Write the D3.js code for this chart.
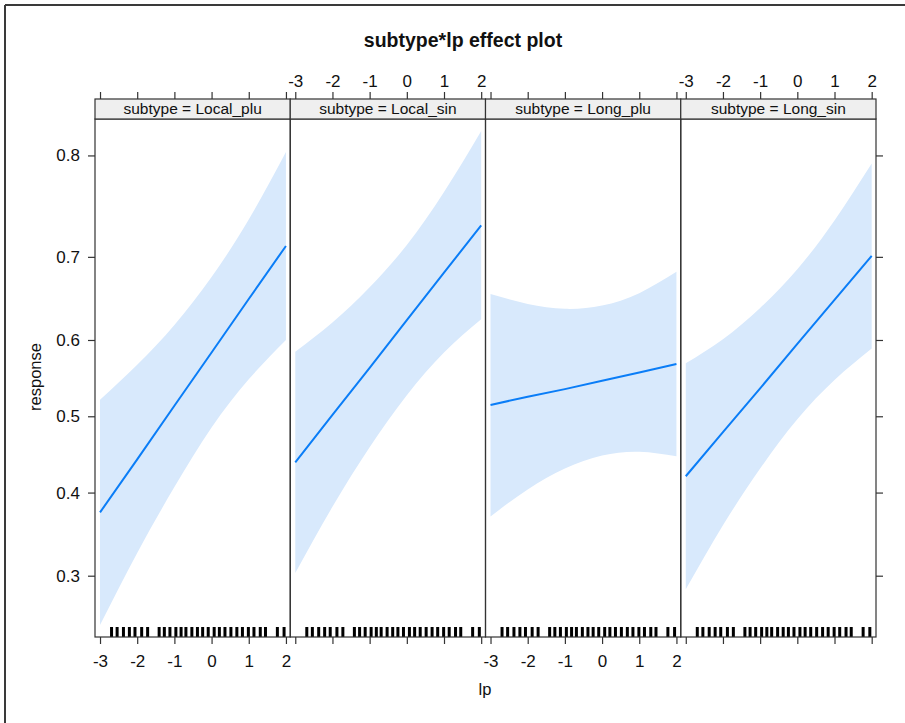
<!DOCTYPE html>
<html>
<head>
<meta charset="utf-8">
<script src="https://cdn.jsdelivr.net/npm/d3@7"></script>
<style>
  body { margin: 0; background: #fff; }
  svg { display: block; }
  text { font-family: "Liberation Sans", Arial, sans-serif; fill: #111; }
</style>
</head>
<body>
<svg id="chart" width="905" height="723"></svg>
<script>
// Panels (one per subtype level)
const subtypes = ["Local_plu", "Local_sin", "Long_plu", "Long_sin"];

// lp values at which the effect was evaluated
const lpGrid = [-3, -2, -1, 0, 1, 2];

// Fitted response and 95% confidence limits per subtype
const fitLocalPlu   = [0.375, 0.443, 0.514, 0.584, 0.651, 0.712];
const lowerLocalPlu = [0.248, 0.326, 0.407, 0.485, 0.549, 0.600];
const upperLocalPlu = [0.522, 0.568, 0.619, 0.677, 0.740, 0.803];

const fitLocalSin   = [0.439, 0.502, 0.564, 0.625, 0.682, 0.734];
const lowerLocalSin = [0.303, 0.382, 0.459, 0.528, 0.584, 0.626];
const upperLocalSin = [0.585, 0.622, 0.665, 0.713, 0.767, 0.820];

const fitLongPlu    = [0.515, 0.526, 0.536, 0.547, 0.558, 0.569];
const lowerLongPlu  = [0.370, 0.404, 0.431, 0.448, 0.453, 0.447];
const upperLongPlu  = [0.657, 0.645, 0.639, 0.643, 0.658, 0.683];

const fitLongSin    = [0.421, 0.479, 0.537, 0.595, 0.650, 0.701];
const lowerLongSin  = [0.285, 0.359, 0.431, 0.496, 0.548, 0.589];
const upperLongSin  = [0.570, 0.601, 0.640, 0.686, 0.739, 0.793];

// Observed lp values shown as a rug along the bottom of each panel
const lpRug = [-2.69, -2.54, -2.37, -2.21, -2.06, -1.88, -1.72,
               -1.41, -1.27, -1.12, -0.96, -0.82, -0.69, -0.53, -0.38, -0.24, -0.09,
                0.07, 0.21, 0.36, 0.52, 0.68, 0.83, 0.99, 1.14, 1.31, 1.45,
                1.77, 1.95];

// Axis ticks
const xTicks = [-3, -2, -1, 0, 1, 2];
const xTickLabels = ["-3", "-2", "-1", "0", "1", "2"];
const yTicks = [0.3, 0.4, 0.5, 0.6, 0.7, 0.8];
const yTickLabels = ["0.3", "0.4", "0.5", "0.6", "0.7", "0.8"];

const titleText = "subtype*lp effect plot";
const xLabel = "lp";
const yLabel = "response";

// ---------------------------------------------------------------------------
const fits   = [fitLocalPlu, fitLocalSin, fitLongPlu, fitLongSin];
const lowers = [lowerLocalPlu, lowerLocalSin, lowerLongPlu, lowerLongSin];
const uppers = [upperLocalPlu, upperLocalSin, upperLongPlu, upperLongSin];

const svg = d3.select("#chart");
const W = 905, H = 723;

const plotLeft = 95, plotRight = 876;
const stripTop = 99, panelTop = 119, panelBottom = 637;
const panelW = (plotRight - plotLeft) / subtypes.length;

const logit = p => Math.log(p / (1 - p));
// response axis is on the logit scale
const y = d3.scaleLinear()
  .domain([logit(0.2363), logit(0.8292)])
  .range([panelBottom, panelTop]);

const fontFamily = '"Liberation Sans", Arial, sans-serif';

// outer frame (left and top edges)
svg.append("line").attr("x1", 5).attr("x2", 5).attr("y1", 5).attr("y2", H)
  .attr("stroke", "#3a3a3a").attr("stroke-width", 2);
svg.append("line").attr("x1", 5).attr("x2", W).attr("y1", 5).attr("y2", 5)
  .attr("stroke", "#3a3a3a").attr("stroke-width", 2);

// title
svg.append("text")
  .attr("x", 463).attr("y", 47)
  .attr("text-anchor", "middle")
  .attr("font-size", 19.5).attr("font-weight", "bold")
  .text(titleText);

const defs = svg.append("defs");
const xFormat = (d, k) => xTickLabels[k];

subtypes.forEach((name, i) => {
  const left = plotLeft + i * panelW;
  const x = d3.scaleLinear().domain([-3.135, 2.116]).range([left, left + panelW]);
  const g = svg.append("g");

  defs.append("clipPath").attr("id", "clip" + i)
    .append("rect").attr("x", left).attr("y", panelTop)
    .attr("width", panelW).attr("height", panelBottom - panelTop);

  const rows = lpGrid.map((lp, k) => ({
    lp, fit: fits[i][k], lo: lowers[i][k], hi: uppers[i][k]
  }));

  const inner = g.append("g").attr("clip-path", `url(#clip${i})`);

  // confidence band
  inner.append("path")
    .datum(rows)
    .attr("fill", "#d8e9fc")
    .attr("d", d3.area()
      .curve(d3.curveNatural)
      .x(d => x(d.lp))
      .y0(d => y(logit(d.lo)))
      .y1(d => y(logit(d.hi))));

  // fitted line
  inner.append("path")
    .datum(rows)
    .attr("fill", "none")
    .attr("stroke", "#0a7df7")
    .attr("stroke-width", 2)
    .attr("d", d3.line()
      .x(d => x(d.lp))
      .y(d => y(logit(d.fit))));

  // rug
  inner.selectAll("line.rug").data(lpRug).join("line")
    .attr("class", "rug")
    .attr("x1", d => x(d)).attr("x2", d => x(d))
    .attr("y1", panelBottom - 10).attr("y2", panelBottom)
    .attr("stroke", "#000").attr("stroke-width", 3);

  // panel border
  g.append("rect")
    .attr("x", left).attr("y", panelTop)
    .attr("width", panelW).attr("height", panelBottom - panelTop)
    .attr("fill", "none").attr("stroke", "#333").attr("stroke-width", 1.2);

  // strip
  g.append("rect")
    .attr("x", left).attr("y", stripTop)
    .attr("width", panelW).attr("height", panelTop - stripTop)
    .attr("fill", "#efefef").attr("stroke", "#333").attr("stroke-width", 1.2);
  g.append("text")
    .attr("x", left + panelW / 2).attr("y", panelTop - 5)
    .attr("text-anchor", "middle")
    .attr("font-size", 15.5)
    .text("subtype = " + name);

  // bottom axis: labels on panels 1 and 3
  const bottomAxis = d3.axisBottom(x).tickValues(xTicks).tickSize(7).tickPadding(11)
    .tickFormat(i % 2 === 1 ? "" : xFormat);
  const gb = svg.append("g").attr("transform", `translate(0,${panelBottom})`).call(bottomAxis);

  // top axis: labels on panels 2 and 4
  const topAxis = d3.axisTop(x).tickValues(xTicks).tickSize(7).tickPadding(5)
    .tickFormat(i % 2 === 0 ? "" : xFormat);
  const gt = svg.append("g").attr("transform", `translate(0,${stripTop})`).call(topAxis);

  [gb, gt].forEach(a => {
    a.select(".domain").remove();
    a.selectAll(".tick line").attr("stroke", "#333").attr("stroke-width", 1.2);
    a.selectAll(".tick text").attr("font-size", 17).attr("fill", "#111")
      .attr("font-family", fontFamily);
  });
});

// left axis with labels
const leftAxis = d3.axisLeft(y)
  .tickValues(yTicks.map(logit))
  .tickFormat((d, k) => yTickLabels[k])
  .tickSize(7).tickPadding(8);
const gl = svg.append("g").attr("transform", `translate(${plotLeft},0)`).call(leftAxis);

// right axis: ticks only
const rightAxis = d3.axisRight(y).tickValues(yTicks.map(logit)).tickFormat("").tickSize(7);
const gr = svg.append("g").attr("transform", `translate(${plotRight},0)`).call(rightAxis);

[gl, gr].forEach(a => {
  a.select(".domain").remove();
  a.selectAll(".tick line").attr("stroke", "#333").attr("stroke-width", 1.2);
  a.selectAll(".tick text").attr("font-size", 17).attr("fill", "#111")
    .attr("font-family", fontFamily);
});

// axis titles
svg.append("text")
  .attr("x", 485).attr("y", 695)
  .attr("text-anchor", "middle")
  .attr("font-size", 16.5)
  .text(xLabel);

svg.append("text")
  .attr("transform", "translate(41,377) rotate(-90)")
  .attr("text-anchor", "middle")
  .attr("font-size", 16.5)
  .text(yLabel);
</script>
</body>
</html>
